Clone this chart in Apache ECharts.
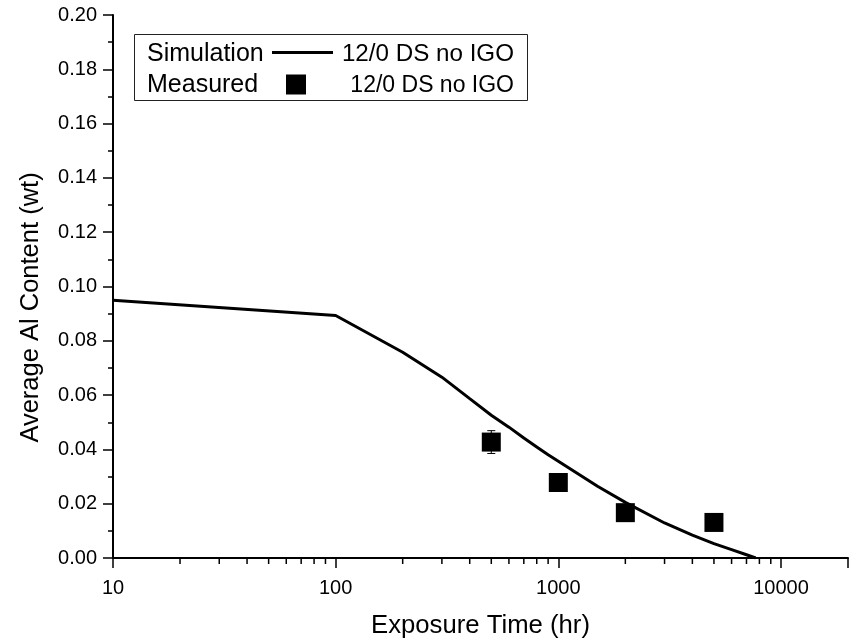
<!DOCTYPE html>
<html>
<head>
<meta charset="utf-8">
<script src="https://cdn.jsdelivr.net/npm/echarts@6/dist/echarts.min.js"></script>
<style>
  html, body { margin: 0; padding: 0; background: #fff; }
  #chart { width: 854px; height: 641px; }
</style>
</head>
<body>
<div id="chart"></div>
<script>
const FONT = '"Liberation Sans", Arial, Helvetica, sans-serif';

// Simulated average Al content vs exposure time
const simTime = [10, 100, 200, 300, 400, 500, 600, 700, 800, 900, 1000, 1500, 2000, 3000, 4000, 5000, 6000, 7000, 7700];
const simAl   = [0.0949, 0.0893, 0.0758, 0.0666, 0.0587, 0.0526, 0.0482, 0.0442, 0.0409, 0.0380, 0.0356, 0.0264, 0.0205, 0.0129, 0.0084, 0.0053, 0.0031, 0.0012, 0.0];

// Measured points (with standard error where available)
const measTime = [500, 1000, 2000, 5000];
const measAl   = [0.0427, 0.0278, 0.0167, 0.0131];
const measErr  = [0.0042, 0, 0, 0];

// Axis ticks
const xMajorTicks = [10, 100, 1000, 10000];
const xMinorTicks = [20, 30, 40, 50, 60, 70, 80, 90,
                     200, 300, 400, 500, 600, 700, 800, 900,
                     2000, 3000, 4000, 5000, 6000, 7000, 8000, 9000];
const yMin = 0, yMax = 0.2, yStep = 0.02;

const xTitle = 'Exposure Time (hr)';
const yTitle = 'Average Al Content (wt)';

const legendRows = [
  { label: 'Simulation', series: '12/0 DS no IGO' },
  { label: 'Measured',   series: '12/0 DS no IGO' }
];

const chart = echarts.init(document.getElementById('chart'), null, { renderer: 'canvas' });

const simData = simTime.map((t, i) => [t, simAl[i]]);
const measData = measTime.map((t, i) => [t, measAl[i]]);
const errData = measTime.map((t, i) => [t, measAl[i], measErr[i]]).filter(d => d[2] > 0);

chart.setOption({
  backgroundColor: '#fff',
  animation: false,
  textStyle: { fontFamily: FONT, color: '#000' },
  grid: { left: 113, right: 6, top: 15, bottom: 83, containLabel: false, outerBoundsMode: 'none' },
  xAxis: {
    type: 'log',
    logBase: 10,
    min: 10,
    max: 20000,
    name: xTitle,
    nameLocation: 'middle',
    nameGap: 55,
    nameTextStyle: { fontFamily: FONT, fontSize: 25.7, color: '#000' },
    axisLine: { show: true, lineStyle: { color: '#000', width: 2 } },
    axisTick: { show: true, inside: false, length: 10, lineStyle: { color: '#000', width: 1.5 } },
    minorTick: { show: false },
    splitLine: { show: false },
    axisLabel: {
      fontFamily: FONT, fontSize: 20, color: '#000', margin: 20,
      formatter: v => (xMajorTicks.some(m => Math.abs(m - v) / m < 1e-6) ? String(Math.round(v)) : '')
    }
  },
  yAxis: {
    type: 'value',
    min: yMin,
    max: yMax,
    interval: yStep,
    axisLine: { show: true, lineStyle: { color: '#000', width: 2 } },
    axisTick: { show: true, inside: false, length: 10, lineStyle: { color: '#000', width: 1.5 } },
    minorTick: { show: true, splitNumber: 2, length: 5, lineStyle: { color: '#000', width: 1.5 } },
    splitLine: { show: false },
    axisLabel: {
      fontFamily: FONT, fontSize: 20, color: '#000', margin: 16,
      formatter: v => v.toFixed(2)
    }
  },
  graphic: [
    {
      // y-axis title, rotated to read bottom-to-top
      type: 'text', z: 50,
      x: 31, y: 307.5, rotation: Math.PI / 2,
      style: { x: 0, y: 0, text: yTitle, font: '25.5px ' + FONT, fill: '#000', align: 'center', verticalAlign: 'middle' }
    },
    {
      type: 'rect', z: 100,
      shape: { x: 134.5, y: 34.5, width: 393, height: 66 },
      style: { fill: '#fff', stroke: '#222', lineWidth: 1 }
    },
    {
      type: 'text', z: 101,
      style: { x: 147, y: 54, text: legendRows[0].label, font: '25px ' + FONT, fill: '#000', verticalAlign: 'middle' }
    },
    {
      type: 'line', z: 101,
      shape: { x1: 272, y1: 52.5, x2: 333, y2: 52.5 },
      style: { stroke: '#000', lineWidth: 3 }
    },
    {
      type: 'text', z: 101,
      style: { x: 514, y: 54, text: legendRows[0].series, font: '24.2px ' + FONT, fill: '#000', align: 'right', verticalAlign: 'middle' }
    },
    {
      type: 'text', z: 101,
      style: { x: 147, y: 85.5, text: legendRows[1].label, font: '25px ' + FONT, fill: '#000', verticalAlign: 'middle' }
    },
    {
      type: 'rect', z: 101,
      shape: { x: 286, y: 74.5, width: 20, height: 20 },
      style: { fill: '#000' }
    },
    {
      type: 'text', z: 101,
      style: { x: 514, y: 85.5, text: legendRows[1].series, font: '23px ' + FONT, fill: '#000', align: 'right', verticalAlign: 'middle' }
    }
  ],
  series: [
    {
      name: 'Simulation 12/0 DS no IGO',
      type: 'line',
      data: simData,
      showSymbol: false,
      symbol: 'none',
      smooth: false,
      lineStyle: { color: '#000', width: 3 },
      z: 3
    },
    {
      name: 'error',
      type: 'custom',
      data: errData,
      z: 4,
      silent: true,
      renderItem: (params, api) => {
        const t = api.value(0), v = api.value(1), e = api.value(2);
        const top = api.coord([t, v + e]);
        const bot = api.coord([t, v - e]);
        const hw = 4;
        return {
          type: 'group',
          children: [
            { type: 'line', shape: { x1: top[0], y1: top[1], x2: bot[0], y2: bot[1] }, style: { stroke: '#000', lineWidth: 1 } },
            { type: 'line', shape: { x1: top[0] - hw, y1: top[1], x2: top[0] + hw, y2: top[1] }, style: { stroke: '#000', lineWidth: 1 } },
            { type: 'line', shape: { x1: bot[0] - hw, y1: bot[1], x2: bot[0] + hw, y2: bot[1] }, style: { stroke: '#000', lineWidth: 1 } }
          ]
        };
      }
    },
    {
      name: 'Measured 12/0 DS no IGO',
      type: 'scatter',
      data: measData,
      symbol: 'rect',
      symbolSize: 19,
      itemStyle: { color: '#000', opacity: 1 },
      z: 5
    },
    {
      // log-decade minor ticks along the time axis
      name: 'xMinorTicks',
      type: 'custom',
      data: xMinorTicks.map(v => [v, yMin]),
      clip: false,
      silent: true,
      z: 6,
      renderItem: (params, api) => {
        const p = api.coord([api.value(0), yMin]);
        return {
          type: 'line',
          shape: { x1: p[0], y1: p[1], x2: p[0], y2: p[1] + 6 },
          style: { stroke: '#000', lineWidth: 1.5 }
        };
      }
    }
  ]
});
</script>
</body>
</html>
